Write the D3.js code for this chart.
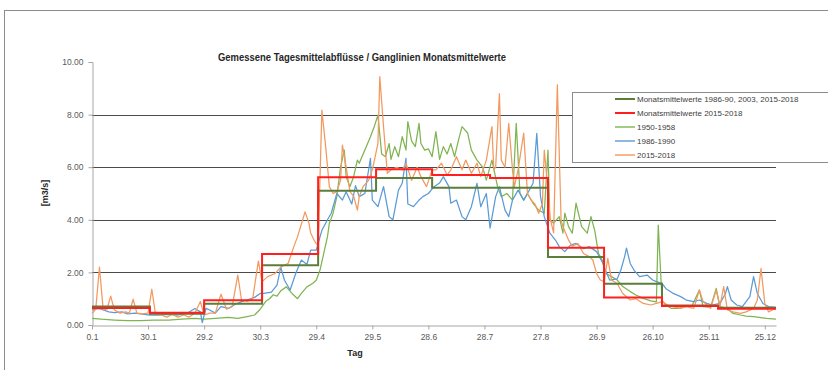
<!DOCTYPE html>
<html>
<head>
<meta charset="utf-8">
<script src="https://cdn.jsdelivr.net/npm/d3@7"></script>
<style>
  body { margin: 0; background: #fff; }
  svg { display: block; font-family: "Liberation Sans", Arial, sans-serif; }
</style>
</head>
<body>
<svg id="chart"></svg>
<script>
// month boundaries (day of year, leap year) and monthly means
const monthStart = [0, 31, 60, 91, 121, 152, 182, 213, 244, 274, 305, 335, 366]
const meanAll = [0.70, 0.43, 0.81, 2.27, 5.10, 5.59, 5.22, 5.22, 2.59, 1.57, 0.74, 0.66]
const mean2015 = [0.65, 0.47, 0.94, 2.70, 5.62, 5.92, 5.70, 5.59, 2.94, 1.05, 0.72, 0.62]

const tickDays = [0, 30, 60, 90, 120, 150, 180, 210, 240, 270, 300, 330, 360]
const tickLabels = ["0.1", "30.1", "29.2", "30.3", "29.4", "29.5", "28.6", "28.7", "27.8", "26.9", "26.10", "25.11", "25.12"]
const yTicks = [0, 2, 4, 6, 8, 10]

// daily values 1950-1958
const days1950 = [0,5,12,19,26,33,41,48,55,60,66,73,78,83,87,90,93,95,97,99,101,104,107,110,112,115,118,120,122,124,126,127,129,131,133,135,136,138,140,142,143,146,149,151,153,155,157,159,160,162,164,166,168,169,171,173,175,176,178,180,182,184,186,188,190,192,194,196,198,201,203,206,209,211,214,217,219,222,225,227,229,231,233,236,239,242,244,245,247,250,252,253,255,257,259,262,265,267,269,271,273,275,278,281,284,288,291,295,299,302,303,305,307,310,314,317,321,325,327,331,334,336,340,343,347,350,354,357,361,366]
const q1950 = [0.25,0.22,0.19,0.17,0.17,0.19,0.19,0.22,0.25,0.22,0.25,0.29,0.25,0.32,0.38,0.6,0.9,1.0,1.15,1.1,1.3,1.45,1.2,1.0,1.2,1.45,1.58,1.7,2.09,2.72,3.36,3.87,4.25,4.88,6.0,6.65,5.64,5.26,5.64,6.27,6.15,6.65,7.16,7.54,7.98,6.5,6.4,6.9,6.3,6.78,6.4,7.16,6.65,7.73,7.0,6.78,7.67,6.9,6.65,6.7,6.4,7.35,6.3,6.78,6.5,6.9,6.4,7.0,7.54,7.3,6.65,6.27,6.0,5.51,6.27,5.26,4.88,5.0,4.75,7.67,5.0,4.75,5.0,4.63,4.37,4.25,6.65,4.0,3.87,4.12,3.49,4.25,3.74,3.49,4.63,3.74,3.49,4.12,3.6,2.72,2.47,1.96,1.84,1.71,1.46,1.27,1.14,1.01,0.92,0.88,3.8,0.95,0.76,0.63,0.63,0.7,0.72,1.33,0.7,0.67,1.39,0.7,0.63,0.44,0.38,0.34,0.32,0.29,0.25,0.22]

// daily values 1986-1990
const days1986 = [0,3,5,9,12,16,19,23,26,31,35,41,46,51,55,58,59,61,63,66,69,73,76,80,83,87,90,92,96,99,101,103,106,109,112,115,117,120,123,126,128,131,134,136,139,141,143,146,149,150,153,156,159,161,164,166,168,169,172,175,177,180,183,186,188,191,192,195,198,200,203,206,208,211,213,216,218,221,223,225,228,231,233,236,238,240,242,245,248,250,253,256,259,263,266,270,273,275,277,281,283,285,286,288,290,293,297,300,302,305,307,311,315,318,322,325,329,332,336,339,340,342,345,348,352,354,356,359,362,366]
const q1986 = [0.57,0.62,0.6,0.5,0.47,0.5,0.42,0.45,0.42,0.38,0.38,0.4,0.38,0.45,0.63,0.5,0.09,0.63,0.57,0.45,0.7,0.63,0.76,0.89,0.95,1.05,1.2,1.2,1.25,1.52,2.2,1.7,1.33,1.96,2.47,2.3,2.85,2.85,3.6,4.0,4.25,5.0,4.75,5.07,4.6,5.3,4.88,5.0,6.34,4.75,4.5,5.26,4.12,4.0,5.13,5.39,6.34,4.6,4.5,4.75,4.88,5.0,5.26,5.4,5.64,5.26,4.63,4.75,4.12,4.0,4.5,5.39,4.5,5.0,3.68,4.88,5.26,4.37,4.12,4.75,5.13,4.75,5.0,5.39,7.29,4.88,4.12,3.49,3.23,2.98,2.79,3.04,3.1,2.9,2.98,2.79,2.4,2.03,1.71,1.75,2.09,2.6,2.92,2.34,2.09,1.84,1.9,1.71,1.65,1.58,1.39,1.2,1.08,0.95,0.89,0.95,0.82,0.76,0.82,1.2,1.46,0.95,0.76,0.7,1.08,1.84,1.2,0.82,0.7,0.67]

// daily values 2015-2018
const days2015 = [0,2,4,6,8,10,12,15,18,20,22,24,27,30,32,34,37,40,43,46,49,52,55,58,60,63,66,69,72,75,78,80,83,86,89,91,94,98,101,105,108,110,114,116,117,119,121,123,125,127,129,131,133,134,136,138,140,142,143,145,148,150,153,154,156,158,160,163,166,168,171,174,176,179,182,184,187,190,192,195,198,200,203,206,208,211,214,215,216,218,219,221,223,225,226,228,231,233,235,237,239,241,242,244,245,247,249,251,252,255,257,260,263,266,268,270,272,274,276,278,281,284,288,291,295,299,302,305,308,311,315,318,322,325,327,331,334,336,338,340,343,347,350,354,356,358,360,362,364,366]
const q2015 = [0.44,0.6,2.2,0.57,0.6,1.1,0.57,0.45,0.5,0.45,0.98,0.45,0.42,0.45,1.36,0.4,0.38,0.3,0.4,0.3,0.38,0.3,0.45,0.89,0.38,0.45,0.45,1.17,0.6,0.7,1.9,0.95,0.9,1.0,2.43,1.65,1.84,1.96,2.2,2.35,2.98,3.36,4.3,3.9,3.5,3.2,3.0,8.17,6.8,5.26,5.0,5.07,5.5,6.84,6.0,5.07,4.9,4.37,4.88,5.26,5.5,5.9,6.9,9.44,7.54,5.77,5.9,6.0,5.9,6.15,5.5,6.0,5.64,5.26,5.9,5.9,6.15,5.7,5.9,6.4,5.9,6.27,5.77,6.15,5.64,6.27,7.54,5.9,6.0,8.8,6.27,6.0,7.67,5.9,5.26,5.9,7.3,5.0,4.75,4.6,4.25,4.6,6.65,5.13,4.1,3.5,9.13,4.0,3.74,3.23,3.0,3.1,2.72,2.6,2.47,1.96,1.71,1.65,2.53,1.71,1.58,1.2,0.95,1.0,0.82,0.76,0.82,0.89,0.76,0.7,0.63,0.7,0.63,1.33,0.89,0.63,1.33,0.7,1.46,0.57,0.5,0.44,0.5,0.63,0.95,2.15,0.82,0.5,0.57,0.63]

const legendLabels = ["Monatsmittelwerte 1986-90, 2003, 2015-2018", "Monatsmittelwerte 2015-2018", "1950-1958", "1986-1990", "2015-2018"]
const colors = ["#5b7f3a", "#ff1f1f", "#7fb452", "#5b9bd5", "#f2995f"]

const width = 828
const height = 370

const svg = d3.select("#chart")
  .attr("width", width)
  .attr("height", height)

// outer chart frame
svg.append("rect")
  .attr("x", 4.5).attr("y", 10.5)
  .attr("width", width).attr("height", height)
  .attr("fill", "none")
  .attr("stroke", "#8c8c8c")

const x = d3.scaleLinear().domain([0, 366]).range([92, 776])
const y = d3.scaleLinear().domain([0, 10]).range([325, 62])

// gridlines
svg.append("g")
  .selectAll("line")
  .data(yTicks.filter(d => d > 0 && d < 10))
  .join("line")
  .attr("x1", x(0)).attr("x2", x(366))
  .attr("y1", d => Math.round(y(d)) + 0.5)
  .attr("y2", d => Math.round(y(d)) + 0.5)
  .attr("stroke", "#4a4a4a")
  .attr("stroke-width", 1)

// y axis
const yAxis = svg.append("g")
  .attr("transform", `translate(${x(0) + 0.5},0)`)
  .call(d3.axisLeft(y).tickValues(yTicks).tickFormat(d3.format(".2f")).tickSize(4).tickPadding(5))
yAxis.select(".domain").attr("stroke", "#a6a6a6")
yAxis.selectAll(".tick line").attr("stroke", "#a6a6a6")
yAxis.selectAll("text").attr("fill", "#595959").style("font-size", "8.5px")

// x axis
const xAxis = svg.append("g")
  .attr("transform", `translate(0,${Math.round(y(0)) + 0.5})`)
  .call(d3.axisBottom(x).tickValues(tickDays).tickFormat((d, i) => tickLabels[i]).tickSize(4).tickPadding(4).tickSizeOuter(0))
xAxis.select(".domain").attr("stroke", "#a6a6a6")
xAxis.selectAll(".tick line").attr("stroke", "#a6a6a6")
xAxis.selectAll("text").attr("fill", "#595959").style("font-size", "8.5px")

const line = d3.line()
  .x(d => x(d[0]))
  .y(d => y(d[1]))

const stepLine = d3.line()
  .x(d => x(d[0]))
  .y(d => y(d[1]))
  .curve(d3.curveStepAfter)

const daily = [
  [days1950, q1950, colors[2]],
  [days1986, q1986, colors[3]],
  [days2015, q2015, colors[4]]
]

daily.forEach(([days, vals, c]) => {
  svg.append("path")
    .datum(days.map((d, i) => [d, vals[i]]))
    .attr("d", line)
    .attr("fill", "none")
    .attr("stroke", c)
    .attr("stroke-width", 1.25)
    .attr("stroke-linejoin", "round")
})

const monthly = [
  [meanAll, colors[0]],
  [mean2015, colors[1]]
]

monthly.forEach(([vals, c]) => {
  const pts = monthStart.map((d, i) => [d, vals[Math.min(i, vals.length - 1)]])
  svg.append("path")
    .datum(pts)
    .attr("d", stepLine)
    .attr("fill", "none")
    .attr("stroke", c)
    .attr("stroke-width", 2)
})

// title (condensed to the narrow width of the original)
svg.append("text")
  .attr("x", 218).attr("y", 61)
  .attr("font-weight", "bold")
  .attr("font-size", "10.5px")
  .attr("fill", "#262626")
  .attr("textLength", 288)
  .attr("lengthAdjust", "spacingAndGlyphs")
  .text("Gemessene Tagesmittelabflüsse / Ganglinien Monatsmittelwerte")

// axis titles
svg.append("text")
  .attr("transform", "translate(48,193) rotate(-90)")
  .attr("text-anchor", "middle")
  .attr("font-weight", "bold")
  .attr("font-size", "9px")
  .attr("fill", "#262626")
  .text("[m3/s]")

svg.append("text")
  .attr("x", 355).attr("y", 356)
  .attr("text-anchor", "middle")
  .attr("font-weight", "bold")
  .attr("font-size", "9px")
  .attr("fill", "#262626")
  .text("Tag")

// legend
const legend = svg.append("g")
legend.append("rect")
  .attr("x", 572.5).attr("y", 92.5)
  .attr("width", 260).attr("height", 70)
  .attr("fill", "#fff")
  .attr("stroke", "#8c8c8c")

legendLabels.forEach((lab, i) => {
  const ly = 99 + i * 14
  legend.append("line")
    .attr("x1", 615).attr("x2", 635)
    .attr("y1", ly).attr("y2", ly)
    .attr("stroke", colors[i])
    .attr("stroke-width", i < 2 ? 2 : 1.4)
  legend.append("text")
    .attr("x", 637).attr("y", ly + 3)
    .attr("font-size", "8px")
    .attr("fill", "#404040")
    .text(lab)
})
</script>
</body>
</html>
